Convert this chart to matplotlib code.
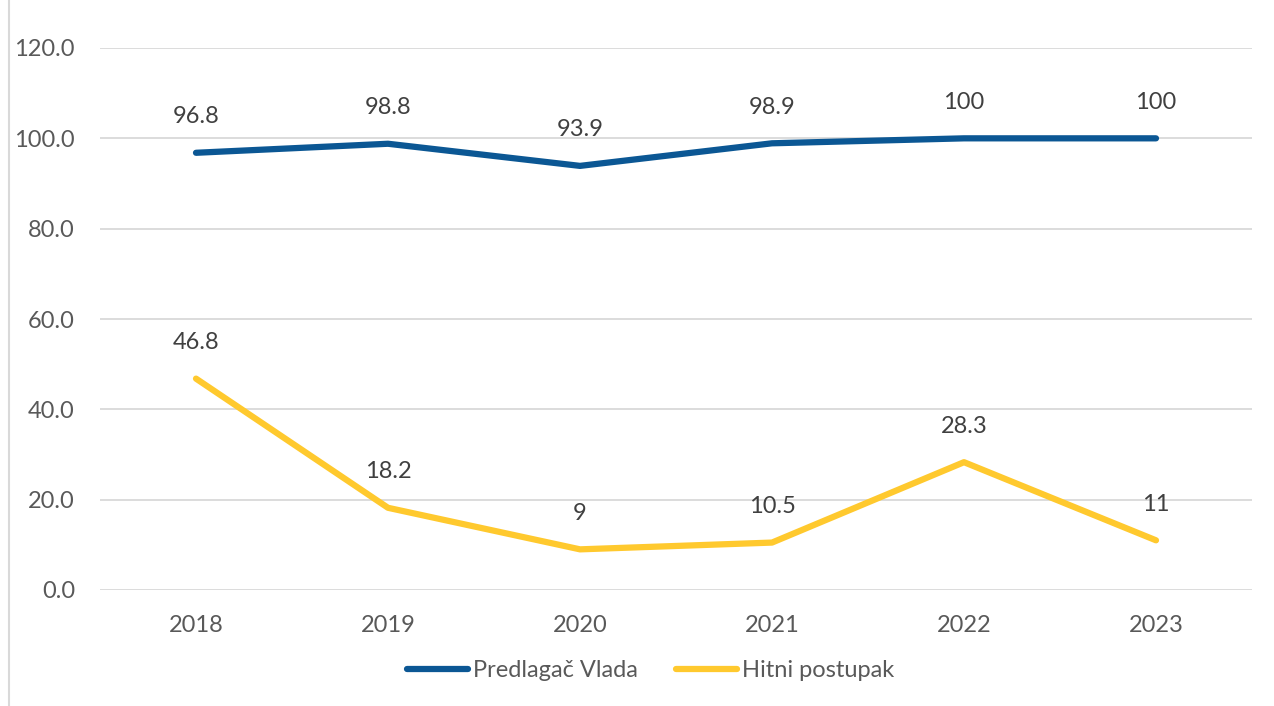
import matplotlib.pyplot as plt
from matplotlib.lines import Line2D

years = ['2018', '2019', '2020', '2021', '2022', '2023']
vlada = [96.8, 98.8, 93.9, 98.9, 100, 100]
hitni = [46.8, 18.2, 9, 10.5, 28.3, 11]
vlada_labels = ['96.8', '98.8', '93.9', '98.9', '100', '100']
hitni_labels = ['46.8', '18.2', '9', '10.5', '28.3', '11']

plt.rcParams['font.family'] = ['Lato', 'DejaVu Sans']
grey = '#595959'
blue = '#0B5794'
yellow = '#FFC92E'

fig = plt.figure(figsize=(12.74, 7.06), dpi=100)
ax = fig.add_axes([100 / 1274, 116 / 706, 1152 / 1274, 542 / 706])

x = [i + 0.5 for i in range(len(years))]
ax.plot(x, vlada, color=blue, lw=4.5, solid_capstyle='round', solid_joinstyle='round', label='Predlagač Vlada')
ax.plot(x, hitni, color=yellow, lw=4.5, solid_capstyle='round', solid_joinstyle='round', label='Hitni postupak')

for xi, v, t in zip(x, vlada, vlada_labels):
    ax.annotate(t, (xi, v), textcoords='offset points', xytext=(0, 26), ha='center', va='center', fontsize=17, color='#404040')
for xi, v, t in zip(x, hitni, hitni_labels):
    ax.annotate(t, (xi, v), textcoords='offset points', xytext=(0, 26), ha='center', va='center', fontsize=17, color='#404040')

ax.set_xlim(0, 6)
ax.set_ylim(0, 120)
ax.set_xticks(x)
ax.set_xticklabels(years)
ax.set_yticks(range(0, 121, 20))
ax.set_yticklabels([f'{v:.1f}' for v in range(0, 121, 20)])
ax.tick_params(length=0, labelsize=17, labelcolor=grey)
ax.tick_params(axis='x', pad=18)
ax.tick_params(axis='y', pad=18)
ax.grid(axis='y', color='#d9d9d9', lw=1.3)
ax.set_axisbelow(True)
for s in ax.spines.values():
    s.set_visible(False)

ax.legend(loc='upper center', bbox_to_anchor=(0.478, -0.09), ncol=2, frameon=False,
          fontsize=17, labelcolor=grey, handlelength=2.6, handletextpad=0.2, columnspacing=1.6)

fig.add_artist(Line2D([9 / 1274, 9 / 1274], [0, 1], color='#d9d9d9', lw=1.5))

fig.savefig('out.png', dpi=100)
